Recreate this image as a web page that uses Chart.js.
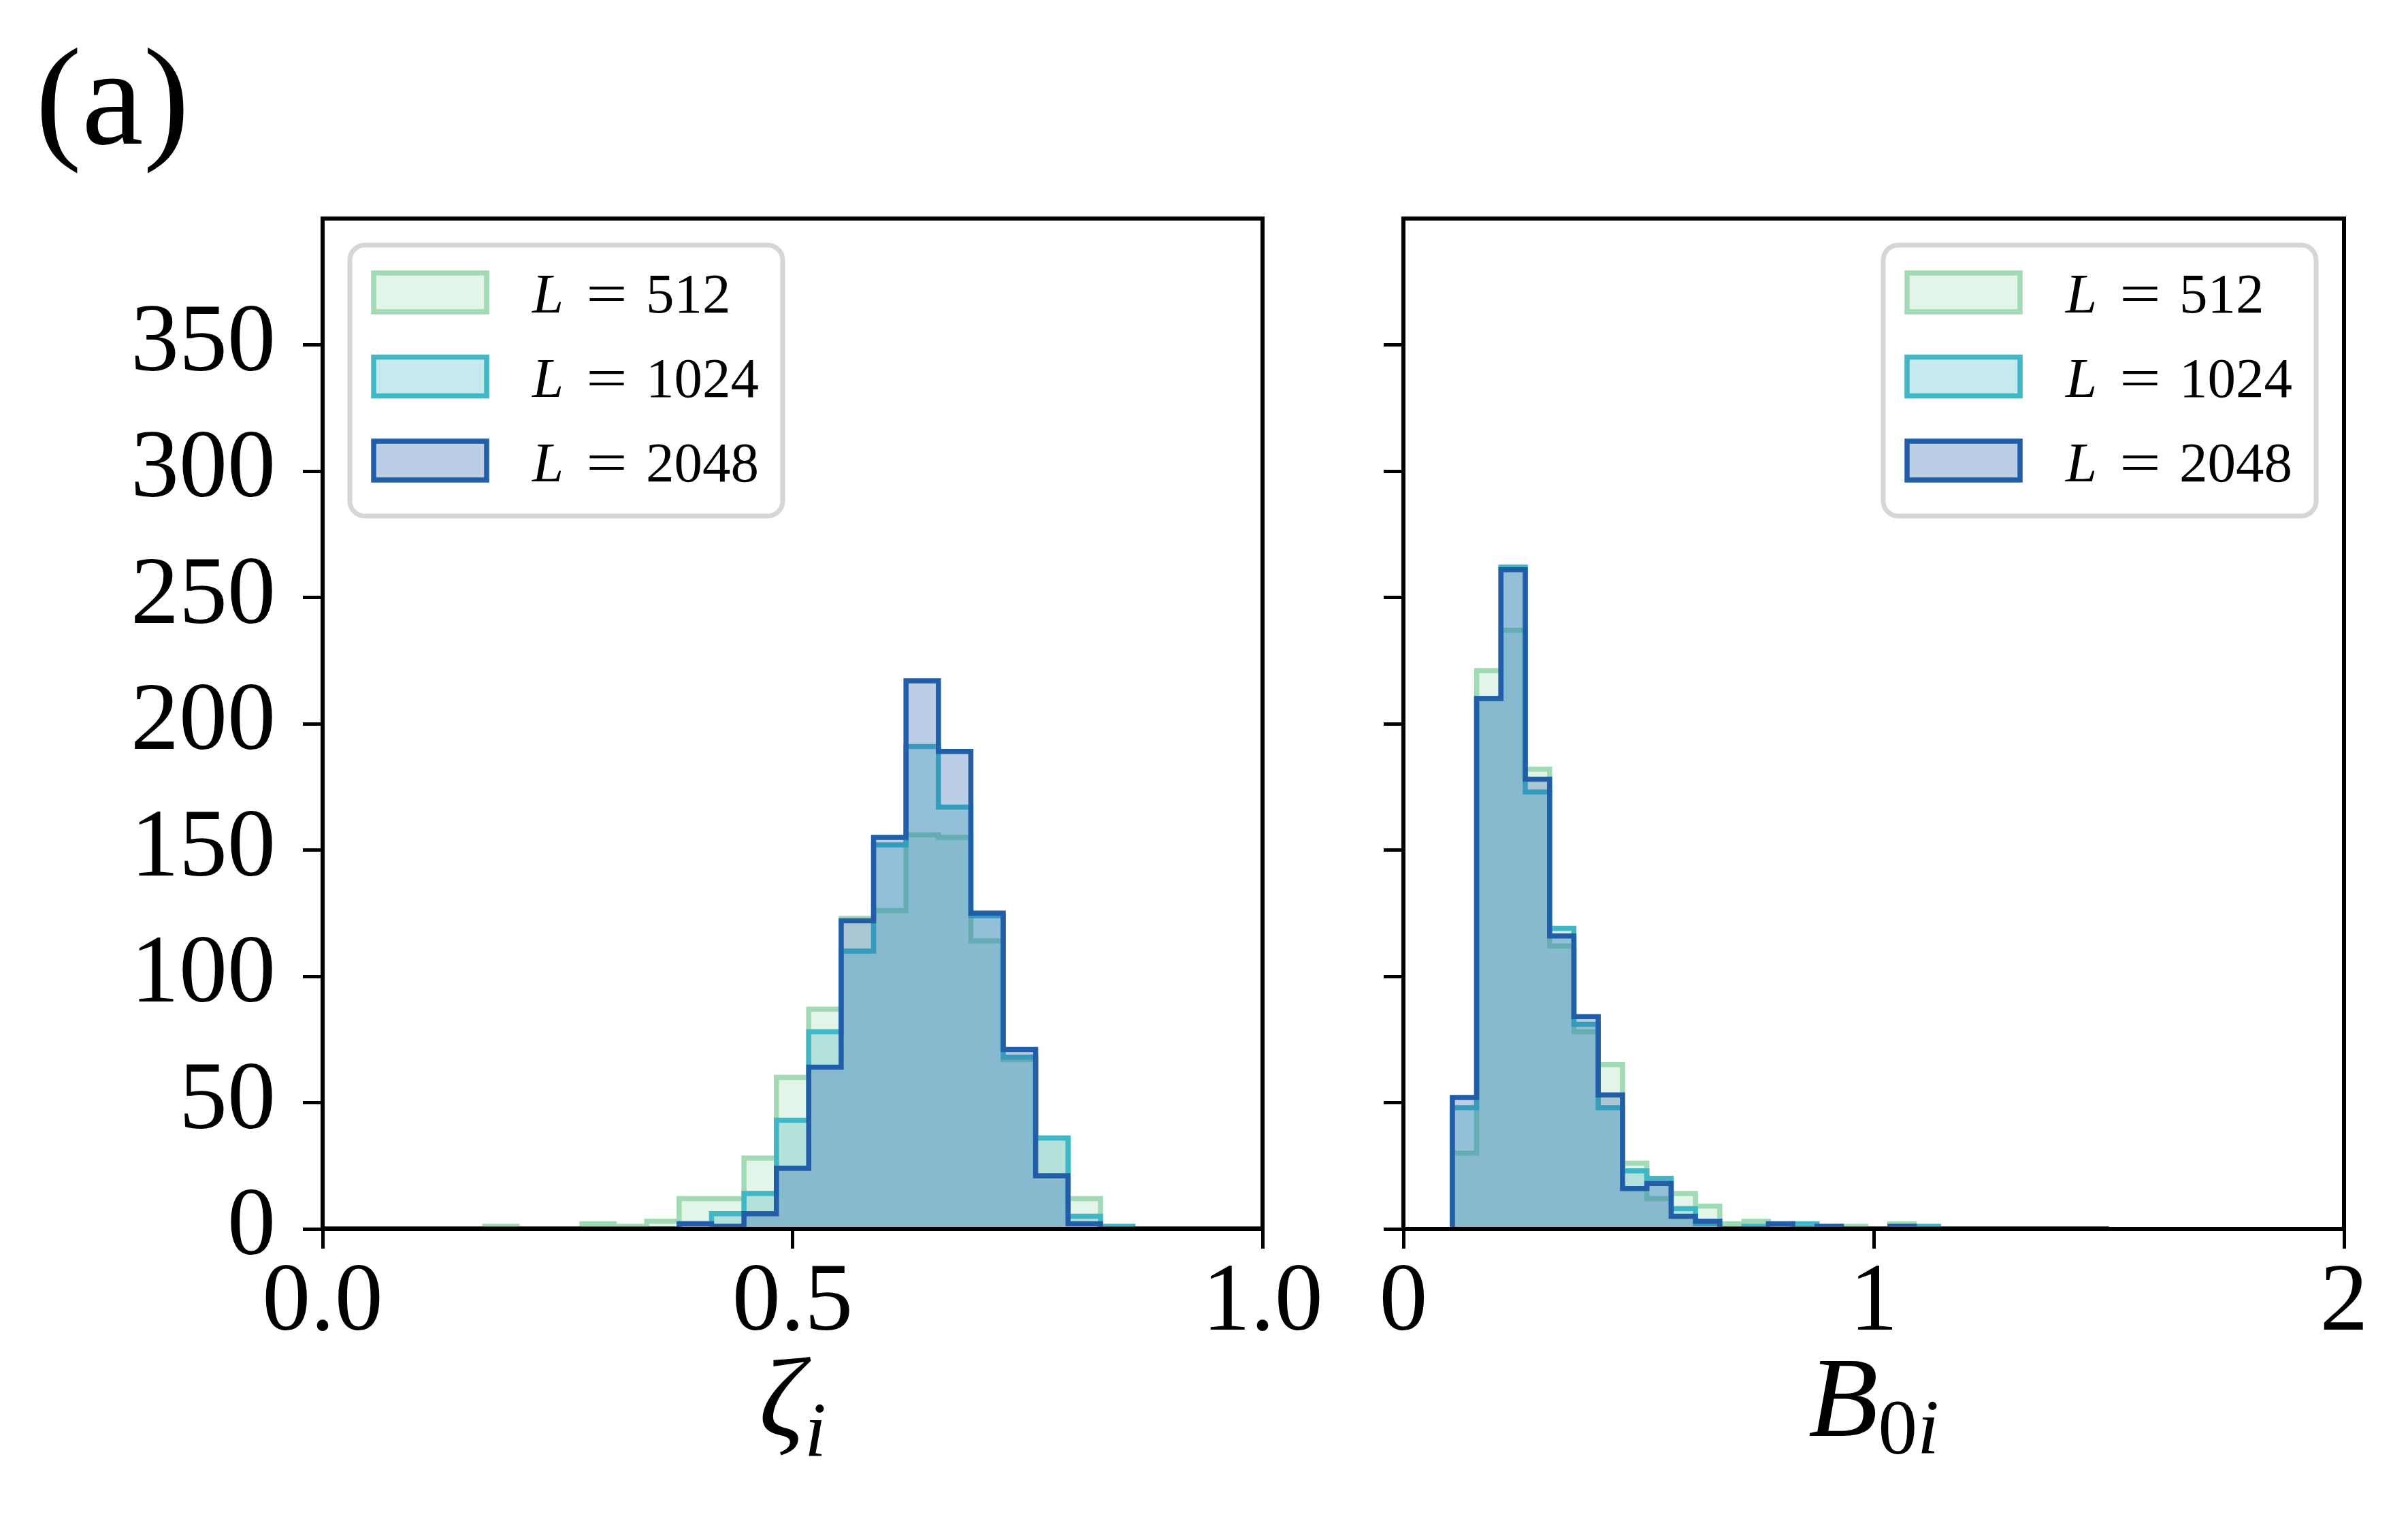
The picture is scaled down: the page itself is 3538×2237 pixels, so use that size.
<!DOCTYPE html>
<html>
<head>
<meta charset="utf-8">
<script src="https://cdn.jsdelivr.net/npm/chart.js@4.4.1/dist/chart.umd.min.js"></script>
<style>
html, body { margin: 0; padding: 0; background: #fff; }
body { width: 3538px; height: 2237px; position: relative; overflow: hidden; }
canvas { position: absolute; top: 0; }
#zetaChart { left: 0; }
#bChart { left: 1960px; }
</style>
</head>
<body>
<canvas id="zetaChart" width="1960" height="2237" style="width:1960px;height:2237px"></canvas>
<canvas id="bChart" width="1578" height="2237" style="width:1578px;height:2237px"></canvas>
<script>
// =========================
// DATA
// =========================

const seriesLabels = ['L = 512', 'L = 1024', 'L = 2048'];

// zeta_i : bin edges (30 edges, 29 bins) and counts
const zetaEdges = [
    0, 0.0345, 0.0690, 0.1034, 0.1379, 0.1724, 0.2069, 0.2414, 0.2759, 0.3103,
    0.3448, 0.3793, 0.4138, 0.4483, 0.4828, 0.5172, 0.5517, 0.5862, 0.6207, 0.6552,
    0.6897, 0.7241, 0.7586, 0.7931, 0.8276, 0.8621, 0.8966, 0.9310, 0.9655, 1.0
];
const zeta512  = [0, 0, 0, 0, 0, 1, 0, 0, 2, 1, 3, 12, 12, 28, 60, 87, 123, 126, 156, 155, 114, 67, 36, 12, 0, 0, 0, 0, 0];
const zeta1024 = [0, 0, 0, 0, 0, 0, 0, 0, 0, 0, 0, 2, 6, 14, 43, 78, 110, 152, 191, 167, 124, 68, 36, 5, 1, 0, 0, 0, 0];
const zeta2048 = [0, 0, 0, 0, 0, 0, 0, 0, 0, 0, 0, 2, 1, 6, 24, 64, 122, 155, 217, 189, 125, 71, 21, 2, 0, 0, 0, 0, 0];

// B_0i : bin edges (28 edges, 27 bins) and counts
const b0Edges = [
    0.104, 0.1557, 0.2074, 0.2591, 0.3108, 0.3625, 0.4142, 0.4659, 0.5176, 0.5693,
    0.6210, 0.6727, 0.7244, 0.7761, 0.8278, 0.8795, 0.9312, 0.9829, 1.0346, 1.0863,
    1.1380, 1.1897, 1.2414, 1.2931, 1.3448, 1.3965, 1.4482, 1.5
];
const b0512  = [30, 221, 237, 182, 112, 78, 65, 26, 12, 14, 9, 2, 3, 1, 1, 0, 1, 0, 2, 0, 0, 0, 0, 0, 0, 0, 0];
const b01024 = [48, 210, 262, 173, 119, 81, 48, 23, 20, 8, 2, 0, 1, 1, 2, 0, 0, 0, 0, 1, 0, 0, 0, 0, 0, 0, 0];
const b02048 = [52, 210, 261, 178, 116, 84, 53, 16, 18, 5, 3, 0, 0, 2, 0, 1, 0, 0, 1, 0, 0, 0, 0, 0, 0, 0, 0];

// ticks
const zetaTicks = [0, 0.5, 1];
const zetaTickLabels = ['0.0', '0.5', '1.0'];
const b0Ticks = [0, 1, 2];
const b0TickLabels = ['0', '1', '2'];
const countTicks = [0, 50, 100, 150, 200, 250, 300, 350];
const countTickLabels = ['0', '50', '100', '150', '200', '250', '300', '350'];

// =========================
// STYLE
// =========================

const lineColors = ['#a1dab4', '#41b6c4', '#225ea8'];
const fillColors = ['rgba(161,218,180,0.3)', 'rgba(65,182,196,0.3)', 'rgba(34,94,168,0.3)'];
const serif = '"Liberation Serif", "DejaVu Serif", serif';

// histogram outline as step points
function stepPoints(edges, counts){
    const pts = [{x: edges[0], y: 0}];
    counts.forEach((c, i) => pts.push({x: edges[i], y: c}));
    pts.push({x: edges[edges.length - 1], y: 0});
    return pts;
}

// =========================
// FRAME, LEGEND, TITLES
// =========================

function roundRectPath(ctx, x, y, w, h, r){
    ctx.beginPath();
    ctx.moveTo(x + r, y);
    ctx.lineTo(x + w - r, y);
    ctx.arcTo(x + w, y, x + w, y + r, r);
    ctx.lineTo(x + w, y + h - r);
    ctx.arcTo(x + w, y + h, x + w - r, y + h, r);
    ctx.lineTo(x + r, y + h);
    ctx.arcTo(x, y + h, x, y + h - r, r);
    ctx.lineTo(x, y + r);
    ctx.arcTo(x, y, x + r, y, r);
    ctx.closePath();
}

const panelDecor = {

    id: 'panelDecor',

    afterDatasetsDraw(chart){
        const a = chart.chartArea;
        const ctx = chart.ctx;
        ctx.save();
        ctx.strokeStyle = '#000';
        ctx.lineWidth = 6;
        ctx.strokeRect(a.left, a.top, a.right - a.left, a.bottom - a.top);
        ctx.restore();
    },

    afterDraw(chart, args, o){
        const a = chart.chartArea;
        const ctx = chart.ctx;
        ctx.save();

        // legend
        const bw = 636, bh = 398;
        const bx = o.legendSide === 'right' ? a.right - 41 - bw : a.left + 40;
        const by = a.top + 39;
        roundRectPath(ctx, bx, by, bw, bh, 22);
        ctx.fillStyle = 'rgba(255,255,255,0.8)';
        ctx.fill();
        ctx.strokeStyle = '#d6d6d6';
        ctx.lineWidth = 7;
        ctx.stroke();

        chart.data.datasets.forEach((ds, i) => {
            const hy = by + 41 + i * 123.5;
            ctx.fillStyle = ds.backgroundColor;
            ctx.fillRect(bx + 35, hy, 166, 57);
            ctx.strokeStyle = ds.borderColor;
            ctx.lineWidth = 7.5;
            ctx.strokeRect(bx + 35, hy, 166, 57);

            const parts = ds.label.split(' = ');
            const tx = bx + 268;
            const ty = by + 99 + i * 124;
            ctx.fillStyle = '#000';
            ctx.textBaseline = 'alphabetic';
            ctx.textAlign = 'left';
            ctx.font = 'italic 83px ' + serif;
            ctx.fillText(parts[0], tx, ty);
            ctx.font = '83px ' + serif;
            ctx.save();
            ctx.translate(tx + 79, ty);
            ctx.scale(1.3, 1);
            ctx.fillText('=', 0, 0);
            ctx.restore();
            ctx.fillText(parts[1], tx + 167, ty);
        });

        // x axis title with subscript
        let total = 0;
        o.xTitle.forEach(p => {
            ctx.font = (p.italic ? 'italic ' : '') + p.size + 'px ' + serif;
            p.w = ctx.measureText(p.text).width;
            total += p.w;
        });
        let x = (a.left + a.right) / 2 - total / 2;
        ctx.fillStyle = '#000';
        ctx.textAlign = 'left';
        ctx.textBaseline = 'alphabetic';
        o.xTitle.forEach(p => {
            ctx.font = (p.italic ? 'italic ' : '') + p.size + 'px ' + serif;
            ctx.fillText(p.text, x, 2109 + (p.dy || 0));
            x += p.w;
        });

        // panel letter
        if (o.letter) {
            ctx.font = '204px ' + serif;
            ctx.fillText(o.letter, 52, 211);
        }

        ctx.restore();
    }

};

// =========================
// CHART BUILDER
// =========================

function histChart(canvasId, edges, series, cfg){

    const datasets = series.map((counts, i) => ({
        label: seriesLabels[i],
        data: stepPoints(edges, counts),
        borderColor: lineColors[i],
        backgroundColor: fillColors[i],
        borderWidth: 7.5,
        stepped: true,
        fill: 'origin',
        pointRadius: 0,
        tension: 0,
        order: 3 - i
    }));

    return new Chart(document.getElementById(canvasId), {

        type: 'line',

        data: { datasets: datasets },

        plugins: [panelDecor],

        options: {

            responsive: false,
            animation: false,
            devicePixelRatio: 1,

            layout: {
                autoPadding: false,
                padding: { left: 0, top: 321, right: cfg.padRight, bottom: 0 }
            },

            plugins: {
                legend: { display: false },
                tooltip: { enabled: false },
                panelDecor: {
                    legendSide: cfg.legendSide,
                    xTitle: cfg.xTitle,
                    letter: cfg.letter
                }
            },

            scales: {

                x: {
                    type: 'linear',
                    min: cfg.xMin,
                    max: cfg.xMax,
                    border: { display: false },
                    grid: {
                        display: true,
                        drawOnChartArea: false,
                        drawTicks: true,
                        tickLength: 29,
                        color: '#000',
                        lineWidth: 5
                    },
                    ticks: {
                        autoSkip: false,
                        maxRotation: 0,
                        padding: 11,
                        color: '#000',
                        font: { family: serif, size: 142, lineHeight: 1.0 },
                        callback: (v, idx) => cfg.xTickLabels[idx]
                    },
                    afterBuildTicks: (scale) => {
                        scale.ticks = cfg.xTicks.map(v => ({ value: v }));
                    },
                    afterFit: (scale) => { scale.height = 432; }
                },

                y: {
                    type: 'linear',
                    min: 0,
                    max: 400,
                    border: { display: false },
                    grid: {
                        display: true,
                        drawOnChartArea: false,
                        drawTicks: true,
                        tickLength: 29,
                        color: '#000',
                        lineWidth: 5
                    },
                    ticks: {
                        autoSkip: false,
                        padding: 40,
                        color: '#000',
                        font: { family: serif, size: 142 },
                        callback: (v, idx) => cfg.showYLabels ? countTickLabels[idx] : ''
                    },
                    afterBuildTicks: (scale) => {
                        scale.ticks = countTicks.map(v => ({ value: v }));
                    },
                    afterFit: (scale) => { scale.width = cfg.yWidth; }
                }

            }

        }

    });

}

// =========================
// PANELS
// =========================

histChart('zetaChart', zetaEdges, [zeta512, zeta1024, zeta2048], {
    xMin: 0, xMax: 1,
    xTicks: zetaTicks, xTickLabels: zetaTickLabels,
    showYLabels: true, yWidth: 474, padRight: 105,
    legendSide: 'left',
    letter: '(a)',
    xTitle: [
        { text: 'ζ', size: 165, italic: true },
        { text: 'i', size: 115, italic: true, dy: 30 }
    ]
});

histChart('bChart', b0Edges, [b0512, b01024, b02048], {
    xMin: 0, xMax: 2,
    xTicks: b0Ticks, xTickLabels: b0TickLabels,
    showYLabels: false, yWidth: 102, padRight: 94,
    legendSide: 'right',
    letter: null,
    xTitle: [
        { text: 'B', size: 168, italic: true },
        { text: '0', size: 115, italic: false, dy: 26 },
        { text: 'i', size: 115, italic: true, dy: 26 }
    ]
});
</script>
</body>
</html>
